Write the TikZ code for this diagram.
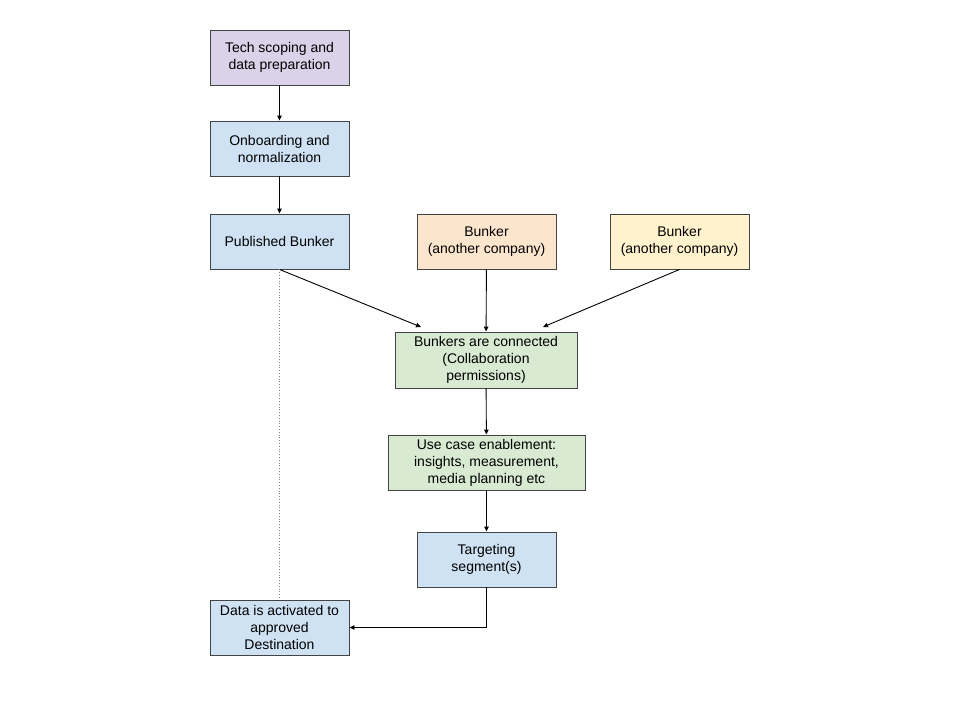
\documentclass[tikz,border=0pt]{standalone}
\usepackage{fontspec}
\setmainfont{Liberation Sans}
\usetikzlibrary{arrows.meta}
\definecolor{cpurple}{HTML}{D9D2E9}
\definecolor{cblue}{HTML}{CFE2F3}
\definecolor{corange}{HTML}{FCE5CD}
\definecolor{cyellow}{HTML}{FFF2CC}
\definecolor{cgreen}{HTML}{D9EAD3}
\definecolor{cline}{HTML}{434343}
\tikzset{
  box/.style={draw=cline, line width=0.9pt, align=center, inner sep=0pt,
    font=\fontsize{14}{17}\selectfont, text=black},
  conn/.style={draw=black, line width=0.9pt, -{Triangle[length=5pt,width=4.5pt]}},
}
\begin{document}
\begin{tikzpicture}[x=1pt,y=-1pt]
\useasboundingbox (0,0) rectangle (960,720);
\node[box, fill=cpurple, minimum width=139pt, minimum height=55pt] (tech) at (279.5,57.5) {Tech scoping and\\data preparation};
\node[box, fill=cblue, minimum width=139pt, minimum height=55pt] (onb) at (279.5,148.5) {Onboarding and\\normalization};
\node[box, fill=cblue, minimum width=139pt, minimum height=55pt] (pub) at (279.5,241.5) {Published Bunker};
\node[box, fill=corange, minimum width=139pt, minimum height=55pt] (bo) at (486.5,241.5) {Bunker\\(another company)};
\node[box, fill=cyellow, minimum width=139pt, minimum height=55pt] (by) at (679.5,241.5) {Bunker\\(another company)};
\node[box, fill=cgreen, minimum width=182pt, minimum height=56pt] (conn) at (486,360) {Bunkers are connected\\(Collaboration\\permissions)};
\node[box, fill=cgreen, minimum width=197pt, minimum height=55pt] (use) at (486.5,462.5) {Use case enablement:\\insights, measurement,\\media planning etc};
\node[box, fill=cblue, minimum width=139pt, minimum height=55pt] (tgt) at (486.5,559.5) {Targeting\\segment(s)};
\node[box, fill=cblue, minimum width=139pt, minimum height=55pt] (act) at (279.5,627.5) {Data is activated to\\approved\\Destination};
\coordinate (inL) at (421,327);
\coordinate (inR) at (543,327);
\draw[conn] (tech) -- (onb);
\draw[conn] (onb) -- (pub);
\draw[conn] (pub.south) -- (inL);
\draw[conn] (bo) -- (conn);
\draw[conn] (by.south) -- (inR);
\draw[conn] (conn) -- (use);
\draw[conn] (use) -- (tgt);
\draw[conn] (tgt.south) |- (act.east);
\draw[draw=gray, line width=0.8pt, dotted] (pub.south) -- (act.north);
\end{tikzpicture}
\end{document}
